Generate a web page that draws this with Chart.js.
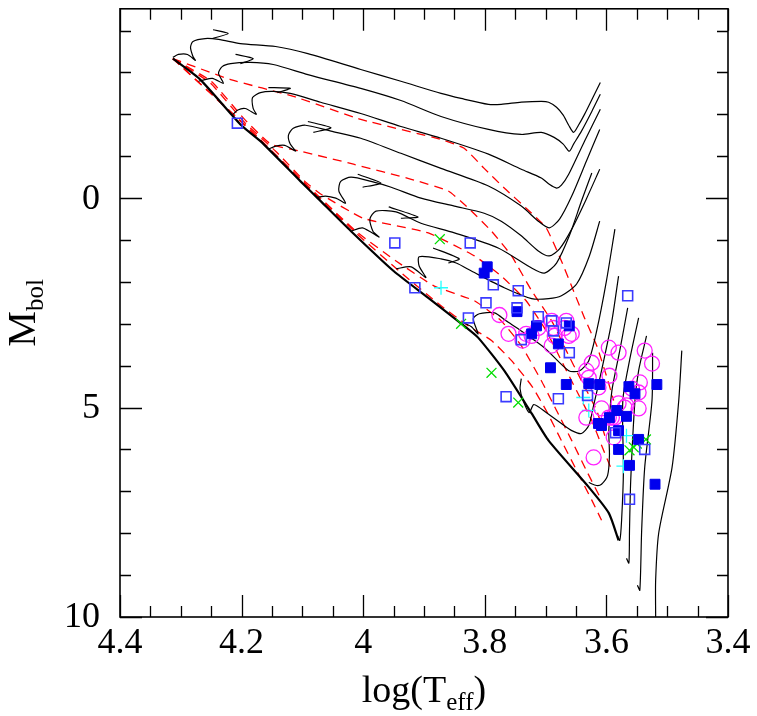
<!DOCTYPE html>
<html>
<head>
<meta charset="utf-8">
<script src="https://cdn.jsdelivr.net/npm/chart.js@4.4.1/dist/chart.umd.min.js"></script>
<style>
  html, body { margin: 0; padding: 0; background: #fff; }
  #wrap { width: 757px; height: 716px; }
</style>
</head>
<body>
<div id="wrap"><canvas id="hr" width="757" height="716"></canvas></div>
<script>
// ticks
const tickX = [4.4, 4.2, 4.0, 3.8, 3.6, 3.4];
const tickY = [0, 5, 10];

// pre-main-sequence tracks [logTeff, Mbol]
const track1 = [[3.610,-2.76],[3.623,-2.38],[3.636,-2.00],[3.646,-1.74],[3.654,-1.57],[3.662,-1.74],[3.671,-1.98],[3.682,-2.17],[3.695,-2.29],[3.707,-2.31],[3.740,-2.29],[3.773,-2.24],[3.794,-2.24],[3.839,-2.38],[3.872,-2.50],[3.938,-2.79],[4.004,-3.07],[4.091,-3.45],[4.144,-3.62],[4.202,-3.69],[4.238,-3.79],[4.260,-3.81],[4.280,-3.74],[4.284,-3.60],[4.280,-3.38],[4.276,-3.29],[4.289,-3.43],[4.304,-3.43],[4.313,-3.36]];
const hook1 = [[4.247,-4.02],[4.222,-3.93],[4.248,-3.81]];
const track2 = [[3.610,-2.48],[3.624,-2.07],[3.641,-1.60],[3.654,-1.29],[3.661,-1.12],[3.671,-1.29],[3.686,-1.45],[3.707,-1.57],[3.740,-1.52],[3.794,-1.64],[3.872,-1.95],[3.938,-2.33],[4.004,-2.62],[4.091,-2.95],[4.148,-3.19],[4.186,-3.24],[4.218,-3.21],[4.232,-3.14],[4.238,-2.98],[4.230,-2.74],[4.248,-2.86],[4.265,-2.81],[4.271,-2.79]];
const hook2 = [[4.210,-3.43],[4.181,-3.33],[4.202,-3.21]];
const track3 = [[3.610,-2.12],[3.636,-1.36],[3.662,-0.57],[3.674,-0.31],[3.682,-0.24],[3.694,-0.33],[3.707,-0.48],[3.740,-0.69],[3.794,-1.05],[3.872,-1.43],[3.938,-1.71],[4.004,-2.02],[4.070,-2.29],[4.120,-2.50],[4.148,-2.55],[4.169,-2.52],[4.182,-2.40],[4.181,-2.14],[4.176,-2.00],[4.194,-2.14],[4.207,-2.10],[4.214,-2.00]];
const hook3 = [[4.156,-2.64],[4.120,-2.62],[4.141,-2.52]];
const track4 = [[3.611,-1.64],[3.633,-0.88],[3.657,-0.05],[3.677,0.50],[3.694,0.71],[3.712,0.55],[3.740,0.19],[3.794,-0.29],[3.872,-0.71],[3.938,-1.07],[4.004,-1.43],[4.053,-1.60],[4.095,-1.74],[4.115,-1.67],[4.123,-1.50],[4.120,-1.29],[4.111,-1.12],[4.129,-1.26],[4.144,-1.24],[4.156,-1.17]];
const hook4 = [[4.091,-1.83],[4.053,-1.68],[4.082,-1.57]];
const track5 = [[3.611,-0.69],[3.633,0.02],[3.657,0.74],[3.677,1.21],[3.694,1.38],[3.712,1.26],[3.740,0.90],[3.773,0.55],[3.801,0.36],[3.850,0.19],[3.905,0.00],[3.954,-0.26],[3.987,-0.40],[4.020,-0.50],[4.037,-0.40],[4.040,-0.17],[4.029,0.12],[4.045,0.00],[4.062,-0.05],[4.075,-0.02]];
const hook5 = [[4.009,-0.57],[3.971,-0.36],[4.001,-0.26]];
const track6 = [[3.624,-0.60],[3.641,0.07],[3.661,0.90],[3.682,1.55],[3.702,1.79],[3.723,1.67],[3.778,1.19],[3.850,0.83],[3.905,0.60],[3.946,0.33],[3.979,0.31],[3.989,0.50],[3.984,0.79],[3.974,0.93],[4.001,0.71],[4.020,0.79]];
const hook6 = [[3.958,0.21],[3.910,0.45],[3.938,0.48]];
const track7 = [[3.611,0.55],[3.628,1.38],[3.649,2.05],[3.674,2.33],[3.695,2.40],[3.723,2.40],[3.768,2.14],[3.822,1.74],[3.847,1.55],[3.872,1.45],[3.908,1.40],[3.908,1.62],[3.897,1.90],[3.921,1.64],[3.946,1.69]];
const hook7 = [[3.885,1.19],[3.842,1.45],[3.860,1.55]];
const track8 = [[3.586,0.74],[3.600,1.98],[3.616,3.17],[3.629,3.88],[3.644,4.12],[3.662,4.12],[3.702,3.57],[3.740,3.17],[3.765,2.93],[3.784,2.74],[3.809,2.76],[3.819,2.88],[3.811,3.24],[3.822,3.07],[3.834,2.98]];
const track9 = [[3.580,1.86],[3.591,2.93],[3.608,4.12],[3.621,4.95],[3.629,5.43],[3.641,5.62],[3.657,5.55],[3.674,5.38],[3.699,5.12],[3.712,4.98],[3.720,4.93],[3.727,5.12],[3.737,4.83],[3.742,4.55],[3.740,4.31]];
const track10 = [[3.565,2.62],[3.578,3.64],[3.591,4.60],[3.596,5.55],[3.595,6.14],[3.598,6.62],[3.608,6.83],[3.616,6.86],[3.629,6.79]];
const track11 = [[3.547,2.86],[3.562,3.88],[3.573,4.83],[3.572,6.50],[3.575,7.69],[3.578,8.17],[3.582,8.05]];
const track12 = [[3.534,3.29],[3.547,4.12],[3.553,4.83],[3.560,6.74],[3.562,7.93],[3.563,8.71],[3.567,8.60]];
const track13 = [[3.524,3.69],[3.525,4.83],[3.537,6.43],[3.542,7.93],[3.545,9.36],[3.549,9.24]];
const track14 = [[3.476,3.64],[3.481,4.83],[3.492,6.43],[3.514,8.00],[3.519,9.12],[3.519,10.0],[3.519,10.6]];

// zero-age main sequence
const zams = [[4.313,-3.33],[4.268,-2.83],[4.202,-1.76],[4.169,-1.36],[4.103,-0.40],[4.075,0.00],[4.020,0.79],[3.950,1.74],[3.893,2.38],[3.834,3.05],[3.811,3.33],[3.768,4.12],[3.723,5.14],[3.695,5.79],[3.629,6.90],[3.596,7.52],[3.580,8.17]];

// isochrones (red dashed)
const iso1 = [[4.313,-3.33],[4.218,-2.83],[4.115,-2.43],[4.004,-1.88],[3.872,-1.40],[3.834,-1.19],[3.801,-0.71],[3.768,-0.24],[3.732,0.24],[3.699,0.71],[3.674,1.50],[3.652,2.29],[3.636,2.86],[3.616,3.52],[3.600,4.24],[3.588,4.83]];
const iso2 = [[4.313,-3.33],[4.250,-2.79],[4.195,-1.88],[4.152,-1.29],[4.103,-1.12],[4.016,-0.81],[3.921,-0.45],[3.860,-0.17],[3.827,0.24],[3.789,0.79],[3.756,1.38],[3.723,2.21],[3.690,2.93],[3.666,3.64],[3.641,4.36],[3.616,5.07],[3.600,5.79]];
const iso3 = [[4.313,-3.33],[4.251,-2.74],[4.194,-1.79],[4.144,-1.12],[4.096,-0.40],[4.070,-0.10],[4.000,0.48],[3.893,0.83],[3.817,1.38],[3.773,1.86],[3.732,2.45],[3.699,3.17],[3.674,3.88],[3.649,4.60],[3.624,5.31],[3.608,5.90],[3.591,6.50]];
const iso4 = [[4.313,-3.33],[4.195,-1.76],[4.096,-0.36],[4.012,0.79],[3.946,1.50],[3.883,2.10],[3.817,2.45],[3.773,2.93],[3.740,3.52],[3.707,4.36],[3.682,5.07],[3.657,5.79],[3.633,6.50],[3.608,7.21]];
const iso5 = [[4.313,-3.33],[4.195,-1.74],[4.096,-0.33],[4.012,0.83],[3.941,1.74],[3.872,2.57],[3.827,3.05],[3.789,3.40],[3.756,3.88],[3.723,4.48],[3.699,5.07],[3.674,5.79],[3.649,6.50],[3.624,7.21],[3.608,7.69]];

// observed stars
const openSquares = [[4.207,-1.79],[3.948,1.07],[3.824,1.07],[3.786,2.07],[3.745,2.21],[3.915,2.14],[3.798,2.50],[3.827,2.86],[3.712,2.83],[3.740,3.38],[3.765,4.74],[3.565,2.33],[3.690,2.93],[3.666,2.98],[3.687,3.17],[3.661,3.69],[3.679,4.79],[3.631,4.71],[3.537,6.00],[3.562,7.19],[3.585,5.60],[3.747,2.62]];
const filledSquares = [[3.796,1.64],[3.801,1.79],[3.747,2.71],[3.715,3.05],[3.723,3.24],[3.679,3.48],[3.661,3.05],[3.692,4.05],[3.666,4.45],[3.629,4.43],[3.611,4.45],[3.563,4.50],[3.553,4.67],[3.517,4.45],[3.613,5.38],[3.608,5.43],[3.595,5.24],[3.583,5.07],[3.567,5.21],[3.580,5.55],[3.580,6.00],[3.547,5.76],[3.562,6.38],[3.520,6.83]];
const circles = [[3.776,2.79],[3.761,3.24],[3.738,3.40],[3.690,2.93],[3.666,2.93],[3.723,3.29],[3.712,3.10],[3.687,3.10],[3.662,3.29],[3.690,3.52],[3.732,3.24],[3.669,3.10],[3.657,3.24],[3.685,3.29],[3.596,3.57],[3.580,3.69],[3.537,3.64],[3.525,3.95],[3.624,3.93],[3.633,4.12],[3.629,4.29],[3.595,4.24],[3.613,4.52],[3.545,4.40],[3.558,4.55],[3.547,4.64],[3.633,5.24],[3.608,5.02],[3.596,5.24],[3.591,5.24],[3.586,5.24],[3.580,4.90],[3.570,5.00],[3.547,5.02],[3.588,5.71],[3.621,6.19],[3.567,4.95]];
const crosses = [[3.874,0.98],[3.839,3.00],[3.789,4.17],[3.745,4.88],[3.562,6.02],[3.550,5.86],[3.535,5.76],[3.555,5.95]];
const pluses = [[3.872,2.14],[3.638,4.76],[3.629,5.07],[3.567,5.67],[3.572,6.40]];

const toPts = arr => arr.map(p => ({ x: p[0], y: p[1] }));

function lineSet(arr, color, width, dash, order, tension) {
    return {
        data: toPts(arr), showLine: true, pointRadius: 0, borderColor: color,
        borderWidth: width, borderDash: dash, order: order, tension: tension, fill: false
    };
}
function markSet(arr, style, radius, stroke, fillCol, width) {
    return {
        data: toPts(arr), showLine: false, pointStyle: style, pointRadius: radius,
        borderColor: stroke, backgroundColor: fillCol, borderWidth: width, order: 0
    };
}

const datasets = [];
[track1, track2, track3, track4, track5, track6, track7, track8, track9, track10, track11, track12, track13, track14]
    .forEach(t => datasets.push(lineSet(t, '#000', 1.2, [], 1, 0.25)));
[hook1, hook2, hook3, hook4, hook5, hook6, hook7]
    .forEach(h => datasets.push(lineSet(h, '#000', 1.2, [], 1, 0.2)));
datasets.push(lineSet(zams, '#000', 2.2, [], 1, 0.2));
[iso1, iso2, iso3, iso4, iso5]
    .forEach(r => datasets.push(lineSet(r, '#ff0000', 1.3, [9, 6], 2, 0.15)));
datasets.push(markSet(openSquares, 'rect', 7, '#3a3aff', 'rgba(0,0,0,0)', 1.6));
datasets.push(markSet(filledSquares, 'rect', 7, '#0000ee', '#0000ee', 1));
datasets.push(markSet(circles, 'circle', 7.5, '#ff22ff', 'rgba(0,0,0,0)', 1.3));
datasets.push(markSet(crosses, 'crossRot', 7, '#00dd00', '#00dd00', 1.3));
datasets.push(markSet(pluses, 'cross', 7, '#22ffff', '#22ffff', 1.3));

const serif = '"Liberation Serif", "DejaVu Serif", serif';

// inner ticks on all four sides, tick labels, frame and axis titles
const frameTicks = {
    id: 'frameTicks',
    afterDraw(chart) {
        const { ctx, chartArea: a, scales: { x, y } } = chart;
        ctx.save();
        ctx.strokeStyle = '#000';
        ctx.lineWidth = 1.3;
        ctx.beginPath();
        for (let i = 0; i <= 20; i++) {
            const px = Math.round(x.getPixelForValue(3.4 + i * 0.05)) + 0.5;
            const len = (i % 4 === 0) ? 22 : 11;
            ctx.moveTo(px, a.bottom); ctx.lineTo(px, a.bottom - len);
            ctx.moveTo(px, a.top); ctx.lineTo(px, a.top + len);
        }
        for (let v = -4; v <= 10; v++) {
            const py = Math.round(y.getPixelForValue(v)) + 0.5;
            const len = (v % 5 === 0) ? 22 : 11;
            ctx.moveTo(a.left, py); ctx.lineTo(a.left + len, py);
            ctx.moveTo(a.right, py); ctx.lineTo(a.right - len, py);
        }
        ctx.stroke();
        ctx.lineWidth = 1.6;
        ctx.strokeRect(a.left, a.top, a.width, a.height);

        // tick labels
        ctx.fillStyle = '#000';
        ctx.font = '36px ' + serif;
        ctx.textAlign = 'center';
        ctx.textBaseline = 'top';
        tickX.forEach(v => ctx.fillText(String(v), x.getPixelForValue(v), a.bottom + 9));
        ctx.textAlign = 'right';
        ctx.textBaseline = 'middle';
        tickY.forEach(v => ctx.fillText(String(v), a.left - 20, y.getPixelForValue(v) + 1));

        // x title: log(T_eff)
        ctx.textBaseline = 'alphabetic';
        ctx.textAlign = 'left';
        const big = '38px ' + serif, small = '25px ' + serif;
        const parts = [['log(T', big, 0], ['eff', small, 8], [')', big, 0]];
        let w = 0;
        parts.forEach(p => { ctx.font = p[1]; w += ctx.measureText(p[0]).width; });
        let cx = (a.left + a.right) / 2 - w / 2;
        parts.forEach(p => { ctx.font = p[1]; ctx.fillText(p[0], cx, 702 + p[2]); cx += ctx.measureText(p[0]).width; });

        // y title: M_bol
        ctx.translate(35, (a.top + a.bottom) / 2);
        ctx.rotate(-Math.PI / 2);
        const yparts = [['M', '40px ' + serif, 0], ['bol', small, 8]];
        w = 0;
        yparts.forEach(p => { ctx.font = p[1]; w += ctx.measureText(p[0]).width; });
        cx = -w / 2;
        yparts.forEach(p => { ctx.font = p[1]; ctx.fillText(p[0], cx, p[2]); cx += ctx.measureText(p[0]).width; });
        ctx.restore();
    }
};

new Chart(document.getElementById('hr'), {
    type: 'scatter',
    data: { datasets: datasets },
    options: {
        responsive: false,
        animation: false,
        devicePixelRatio: 1,
        layout: { padding: { left: 0, right: 29, top: 7, bottom: 0 } },
        plugins: { legend: { display: false }, tooltip: { enabled: false } },
        scales: {
            x: {
                type: 'linear', min: 3.4, max: 4.4, reverse: true,
                grid: { display: false, drawTicks: false },
                border: { display: false },
                ticks: { display: false },
                afterFit: s => { s.height = 99; }
            },
            y: {
                type: 'linear', min: -4.52, max: 10, reverse: true,
                grid: { display: false, drawTicks: false },
                border: { display: false },
                ticks: { display: false },
                afterFit: s => { s.width = 120; }
            }
        }
    },
    plugins: [frameTicks]
});
</script>
</body>
</html>
